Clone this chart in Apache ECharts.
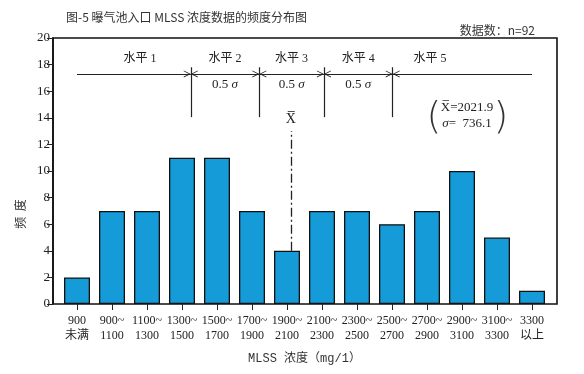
<!DOCTYPE html>
<html>
<head>
<meta charset="utf-8">
<script src="https://cdn.jsdelivr.net/npm/echarts@6/dist/echarts.min.js"></script>
<style>html,body{margin:0;padding:0;background:#fff}#c{width:584px;height:374px}</style>
</head>
<body>
<div id="c"></div>
<script>
var categories = ['900\n未满','900~\n1100','1100~\n1300','1300~\n1500','1500~\n1700','1700~\n1900','1900~\n2100','2100~\n2300','2300~\n2500','2500~\n2700','2700~\n2900','2900~\n3100','3100~\n3300','3300\n以上'];
var frequencies = [2, 7, 7, 11, 11, 7, 4, 7, 7, 6, 7, 10, 5, 1];
var yTicks = [0, 2, 4, 6, 8, 10, 12, 14, 16, 18, 20];
var levelBounds = [1450, 1842, 2211, 2604];
var levelLabels = ['水平 1', '水平 2', '水平 3', '水平 4', '水平 5'];
var levelLabelX = [1160, 1646, 2026, 2407, 2817];
var meanValue = 2021.9;
var sigmaValue = 736.1;
var arrowStart = 800, arrowEnd = 3400;

var SERIF = '"Liberation Serif","Noto Sans CJK SC",serif';
var INK = '#222';
// open chevron, tip at the centre of its box so it ends exactly on the line end
var chevron = 'path://M0,0 L0.01,0 Z M5,10 L10,20 L8.8,20 L5,12.6 L1.2,20 L0,20 Z';

var arrowY = 17.3, vTop = 17.8, vBot = 14.05;
var lines = [];
var pts = [arrowStart].concat(levelBounds).concat([arrowEnd]);
for (var i = 0; i < pts.length - 1; i++) {
  lines.push([
    {coord: [pts[i], arrowY], symbol: i === 0 ? 'none' : chevron, symbolSize: [7, 14]},
    {coord: [pts[i + 1], arrowY], symbol: i === pts.length - 2 ? 'none' : chevron, symbolSize: [7, 14]}
  ]);
}
levelBounds.forEach(function (b) {
  lines.push([{coord: [b, vBot], symbol: 'none'}, {coord: [b, vTop], symbol: 'none'}]);
});
lines.push([
  {coord: [meanValue, frequencies[6]], symbol: 'none', lineStyle: {type: [9, 3, 2, 3], width: 1.3}},
  {coord: [meanValue, 13], symbol: 'none'}
]);

var texts = [];
levelLabels.forEach(function (t, i) {
  texts.push({coord: [levelLabelX[i], 18.4], label: {formatter: t, fontSize: 12}});
});
for (var j = 0; j < levelBounds.length - 1; j++) {
  texts.push({coord: [(levelBounds[j] + levelBounds[j + 1]) / 2, 16.5], label: {formatter: '0.5 {i|σ}'}});
}
texts.push({coord: [meanValue, 13.9], label: {formatter: 'X\u0305', fontSize: 14}});
texts.push({coord: [3029, 14.8], label: {formatter: 'X\u0305=' + meanValue.toFixed(1)}});
texts.push({coord: [3029, 13.6], label: {formatter: '{i|σ}=  ' + sigmaValue.toFixed(1)}});
texts.push({coord: [2840, 13.95], label: {formatter: '(', fontSize: 38, color: '#333', fontFamily: '"DejaVu Sans",sans-serif', fontWeight: 'lighter'}});
texts.push({coord: [3222, 13.95], label: {formatter: ')', fontSize: 38, color: '#333', fontFamily: '"DejaVu Sans",sans-serif', fontWeight: 'lighter'}});

var chart = echarts.init(document.getElementById('c'), null, {renderer: 'canvas'});
chart.setOption({
  animation: false,
  backgroundColor: '#fff',
  title: [
    {text: '图-5 曝气池入口 MLSS 浓度数据的频度分布图', left: 61, top: 6,
     textStyle: {fontSize: 12, fontWeight: 'normal', color: '#333', fontFamily: '"Noto Sans CJK SC",sans-serif'}},
    {text: '数据数：n=92', right: 44, top: 19,
     textStyle: {fontSize: 12, fontWeight: 'normal', color: '#333', fontFamily: '"Noto Sans CJK SC",sans-serif'}}
  ],
  graphic: [{type: 'text', x: 20, y: 214, rotation: Math.PI / 2,
    style: {text: '频  度', font: '12px "Noto Sans CJK SC"', fill: '#333', textAlign: 'center', textVerticalAlign: 'middle'}}],
  grid: [
    {left: 53, right: 27, top: 38, bottom: 70, show: true, borderColor: '#111', borderWidth: 1.6, backgroundColor: 'transparent'},
    {left: 59.5, right: 34.5, top: 38, bottom: 70}
  ],
  xAxis: [
    {gridIndex: 0, type: 'value', show: false, min: 0, max: 1},
    {gridIndex: 1, type: 'category', data: categories, position: 'bottom',
     axisLine: {show: false},
     axisTick: {show: true, alignWithLabel: true, length: 6, interval: 0, lineStyle: {color: INK}},
     axisLabel: {interval: 0, fontSize: 12, lineHeight: 15, margin: 9, color: INK, fontFamily: SERIF},
     name: 'MLSS 浓度（mg/1）', nameLocation: 'middle', nameGap: 49,
     nameTextStyle: {fontSize: 12, color: '#333', fontFamily: '"Liberation Mono","Noto Sans CJK SC",monospace'}},
    {gridIndex: 1, type: 'value', show: false, min: 700, max: 3500}
  ],
  yAxis: [
    {gridIndex: 0, type: 'value', min: yTicks[0], max: yTicks[yTicks.length - 1], interval: 2,
     axisLine: {show: true, lineStyle: {color: '#111', width: 1.6}},
     axisTick: {show: true, length: 6, lineStyle: {color: INK}},
     axisLabel: {fontSize: 13, margin: 3, color: INK, fontFamily: SERIF},
     splitLine: {show: false}},
    {gridIndex: 1, type: 'value', min: 0, max: 20, show: false}
  ],
  series: [
    {type: 'bar', xAxisIndex: 1, yAxisIndex: 1, data: frequencies, barWidth: 26,
     itemStyle: {color: '#159bd8', borderColor: '#111', borderWidth: 1.3}},
    {type: 'line', xAxisIndex: 2, yAxisIndex: 1, data: [], silent: true,
     markLine: {silent: true, symbol: 'none', label: {show: false},
       lineStyle: {color: INK, width: 1.2, type: 'solid'}, data: lines},
     markPoint: {silent: true, symbol: 'circle', symbolSize: 0,
       label: {show: true, position: 'inside', color: INK, fontSize: 13, fontFamily: SERIF,
         rich: {i: {fontStyle: 'italic', fontSize: 13, fontFamily: SERIF, color: INK}}},
       data: texts}}
  ]
});
</script>
</body>
</html>
